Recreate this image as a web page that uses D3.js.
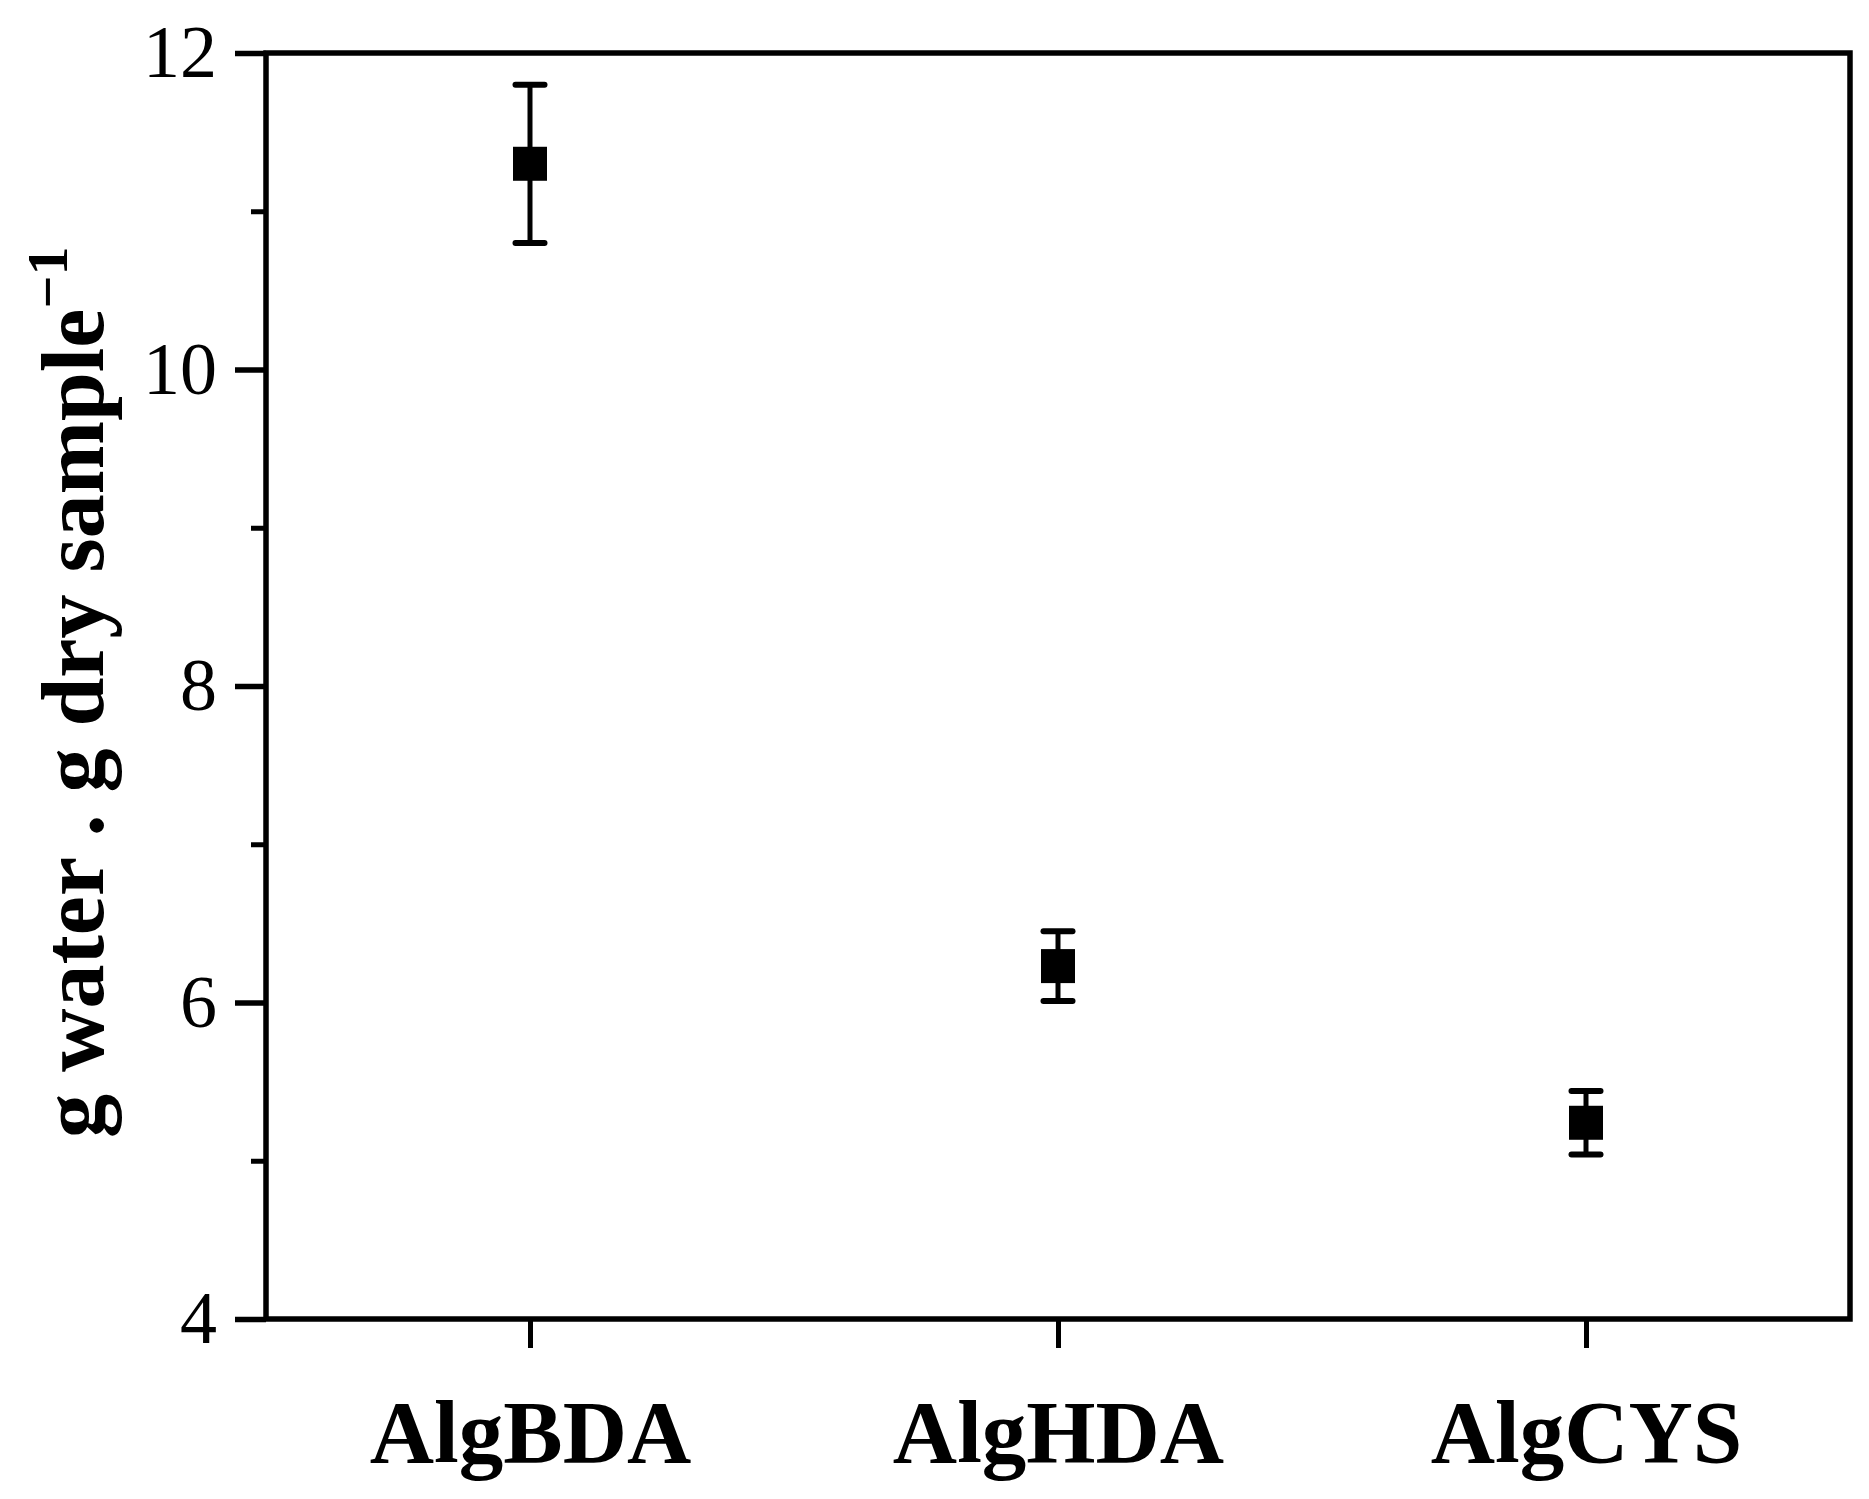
<!DOCTYPE html>
<html>
<head>
<meta charset="utf-8">
<script src="https://cdn.jsdelivr.net/npm/d3@7"></script>
<style>
    body { margin: 0; background: #fff; }
    svg { display: block; }
</style>
</head>
<body>
<div id="chart"></div>
<script>
// Values
var samples = ["AlgBDA", "AlgHDA", "AlgCYS"];
var means = [11.30, 6.23, 5.24];
var errors = [0.50, 0.22, 0.20];
var majorTicks = [4, 6, 8, 10, 12];
var minorTicks = [5, 7, 9, 11];

var svgWidth = 1869;
var svgHeight = 1499;
var margin = { top: 53, right: 19, bottom: 180, left: 266 };
var width = svgWidth - margin.left - margin.right;
var height = svgHeight - margin.top - margin.bottom;

var svg = d3.select("#chart")
    .append("svg")
    .attr("width", svgWidth)
    .attr("height", svgHeight);

var g = svg.append("g")
    .attr("transform", "translate(" + margin.left + "," + margin.top + ")");

var xScale = d3.scalePoint()
    .domain(samples)
    .range([0, width])
    .padding(0.5);

var yScale = d3.scaleLinear()
    .domain([4, 12])
    .range([height, 0]);

var font = "'Liberation Serif', 'Times New Roman', serif";

// minor y ticks
g.append("g")
    .call(d3.axisLeft(yScale).tickValues(minorTicks).tickSize(15).tickFormat(""))
    .call(function (a) { a.select(".domain").remove(); })
    .selectAll("line").attr("stroke-width", 5);

// major y ticks
var yAxis = g.append("g")
    .call(d3.axisLeft(yScale).tickValues(majorTicks).tickSize(31).tickPadding(18))
    .call(function (a) { a.select(".domain").remove(); });
yAxis.selectAll("line").attr("stroke-width", 5.5);
yAxis.selectAll("text")
    .attr("font-family", font)
    .attr("font-size", 74)
    .attr("fill", "#000");

// x ticks and labels
var xAxis = g.append("g")
    .attr("transform", "translate(0," + height + ")")
    .call(d3.axisBottom(xScale).tickSize(29))
    .call(function (a) { a.select(".domain").remove(); });
xAxis.selectAll("line").attr("stroke-width", 5);
xAxis.selectAll("text")
    .attr("y", 143)
    .attr("dy", 0)
    .attr("font-family", font)
    .attr("font-weight", "bold")
    .attr("font-size", 89)
    .attr("fill", "#000");

// frame
g.append("rect")
    .attr("x", 0)
    .attr("y", 0)
    .attr("width", width)
    .attr("height", height)
    .attr("fill", "none")
    .attr("stroke", "#000")
    .attr("stroke-width", 5.5);

// error bars
var bars = g.selectAll(".err")
    .data(samples)
    .enter()
    .append("g")
    .attr("class", "err");

bars.append("line")
    .attr("x1", function (d) { return xScale(d); })
    .attr("x2", function (d) { return xScale(d); })
    .attr("y1", function (d, i) { return yScale(means[i] + errors[i]); })
    .attr("y2", function (d, i) { return yScale(means[i] - errors[i]); })
    .attr("stroke", "#000")
    .attr("stroke-width", 5);

[1, -1].forEach(function (sign) {
    bars.append("line")
        .attr("x1", function (d) { return xScale(d) - 14.5; })
        .attr("x2", function (d) { return xScale(d) + 14.5; })
        .attr("y1", function (d, i) { return yScale(means[i] + sign * errors[i]); })
        .attr("y2", function (d, i) { return yScale(means[i] + sign * errors[i]); })
        .attr("stroke", "#000")
        .attr("stroke-width", 6)
        .attr("stroke-linecap", "round");
});

// square markers
var size = 34;
g.selectAll(".pt")
    .data(samples)
    .enter()
    .append("rect")
    .attr("class", "pt")
    .attr("x", function (d) { return xScale(d) - size / 2; })
    .attr("y", function (d, i) { return yScale(means[i]) - size / 2; })
    .attr("width", size)
    .attr("height", size)
    .attr("fill", "#000");

// y axis title
var title = svg.append("text")
    .attr("transform", "translate(103,1138) rotate(-90)")
    .attr("font-family", font)
    .attr("font-weight", "bold")
    .attr("font-size", 88)
    .attr("fill", "#000");
title.append("tspan").text("g water . g dry sample");
title.append("tspan")
    .attr("dy", -36)
    .attr("font-size", 58)
    .text("\u22121");
</script>
</body>
</html>
